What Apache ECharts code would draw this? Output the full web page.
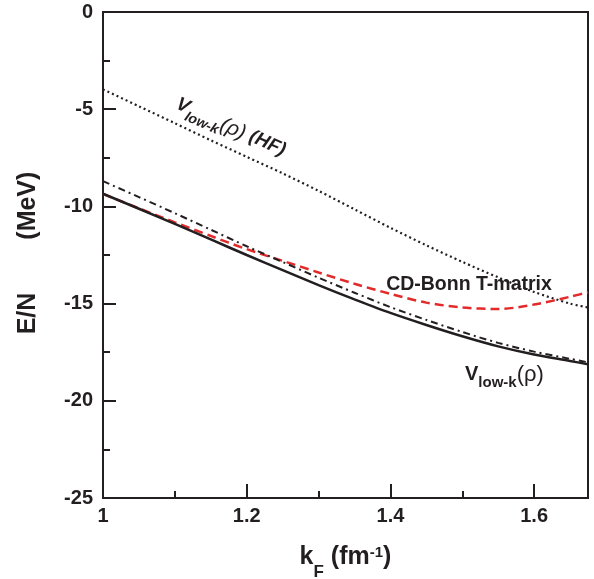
<!DOCTYPE html>
<html>
<head>
<meta charset="utf-8">
<script src="https://cdn.jsdelivr.net/npm/echarts@6/dist/echarts.min.js"></script>
<style>
	html, body { margin: 0; padding: 0; background: #fff; }
	#chart { width: 594px; height: 579px; }
</style>
</head>
<body>
<div id="chart"></div>
<script>
var kF = [1.0, 1.05, 1.1, 1.15, 1.2, 1.25, 1.3, 1.35, 1.4, 1.45, 1.5, 1.55, 1.6, 1.65, 1.675];
var vlowk = [-9.35, -10.12, -10.9, -11.7, -12.5, -13.28, -14.05, -14.78, -15.48, -16.1, -16.68, -17.2, -17.62, -17.95, -18.12];
var vlowkDashDot = [-8.7, -9.52, -10.35, -11.2, -12.05, -12.86, -13.67, -14.44, -15.18, -15.84, -16.46, -17.02, -17.47, -17.84, -18.02];
var cdBonn = [-9.36, -10.1, -10.82, -11.52, -12.2, -12.8, -13.4, -13.98, -14.5, -14.95, -15.2, -15.28, -15.05, -14.65, -14.42];
var vlowkHF = [-3.98, -4.85, -5.72, -6.6, -7.45, -8.3, -9.2, -10.15, -11.1, -12.0, -12.85, -13.65, -14.4, -15.0, -15.2];
var xTicks = [1, 1.675, 0.2, 0.1];
var yTicks = [-25, 0, 5, 2.5];

var ink = '#231f20';
var fam = '"Liberation Sans", Arial, sans-serif';

function pairs(ys) {
	return kF.map(function(x, i) { return [x, ys[i]]; });
}

var myChart = echarts.init(document.getElementById('chart'));
var option = {
	animation: false,
	backgroundColor: '#fff',
	grid: {
		left: 103,
		right: 6,
		top: 12,
		bottom: 81,
		show: true,
		borderColor: ink,
		borderWidth: 2,
		containLabel: false,
		outerBoundsMode: 'none'
	},
	xAxis: [{
		type: 'value',
		position: 'bottom',
		min: xTicks[0],
		max: xTicks[1],
		interval: xTicks[2],
		axisLine: { onZero: false, lineStyle: { color: ink, width: 2 } },
		axisTick: { inside: true, length: 14, lineStyle: { color: ink, width: 2 } },
		axisLabel: { showMaxLabel: false, margin: 8, color: ink, fontSize: 20, fontWeight: 'bold', fontFamily: fam },
		splitLine: { show: false },
		name: '{t|k}{sub|F}{t| (fm}{sup|-1}{t|)}',
		nameLocation: 'middle',
		nameGap: 47,
		nameTextStyle: {
			rich: {
				t: { fontSize: 25, fontWeight: 'bold', fontFamily: fam, color: ink, padding: [0, 0, 11, 0] },
				sub: { fontSize: 17, fontWeight: 'bold', fontFamily: fam, color: ink, verticalAlign: 'bottom' },
				sup: { fontSize: 15, fontWeight: 'bold', fontFamily: fam, color: ink, verticalAlign: 'top' }
			}
		}
	}, {
		// minor ticks
		type: 'value',
		position: 'bottom',
		min: xTicks[0],
		max: xTicks[1],
		interval: xTicks[3],
		axisLine: { show: false, onZero: false },
		axisTick: { inside: true, length: 7, lineStyle: { color: ink, width: 2 } },
		axisLabel: { show: false },
		splitLine: { show: false }
	}],
	yAxis: [{
		type: 'value',
		position: 'left',
		min: yTicks[0],
		max: yTicks[1],
		interval: yTicks[2],
		axisLine: { onZero: false, lineStyle: { color: ink, width: 2 } },
		axisTick: { inside: true, length: 13, lineStyle: { color: ink, width: 2 } },
		axisLabel: { margin: 10, color: ink, fontSize: 20, fontWeight: 'bold', fontFamily: fam },
		splitLine: { show: false },
		name: '{a|E/N}{g|}{a|(MeV)}',
		nameLocation: 'middle',
		nameGap: 62,
		nameTextStyle: {
			padding: [0, 0, 0, 4],
			rich: {
				a: { fontSize: 25, fontWeight: 'bold', fontFamily: fam, color: ink },
				g: { width: 53 }
			}
		}
	}, {
		// minor ticks
		type: 'value',
		position: 'left',
		min: yTicks[0],
		max: yTicks[1],
		interval: yTicks[3],
		axisLine: { show: false, onZero: false },
		axisTick: { inside: true, length: 7, lineStyle: { color: ink, width: 2 } },
		axisLabel: { show: false },
		splitLine: { show: false }
	}],
	series: [{
		name: 'Vlowk HF',
		type: 'line',
		data: pairs(vlowkHF),
		showSymbol: false,
		smooth: 0.3,
		lineStyle: { color: ink, width: 2.2, type: [2, 3] },
		z: 2
	}, {
		name: 'CD-Bonn T-matrix',
		type: 'line',
		data: pairs(cdBonn),
		showSymbol: false,
		smooth: 0.3,
		lineStyle: { color: '#e32a2a', width: 2.5, type: [9, 5] },
		z: 3
	}, {
		name: 'Vlowk dash-dot',
		type: 'line',
		data: pairs(vlowkDashDot),
		showSymbol: false,
		smooth: 0.3,
		lineStyle: { color: ink, width: 2, type: [7, 4, 2, 4] },
		z: 4
	}, {
		name: 'Vlowk',
		type: 'line',
		data: pairs(vlowk),
		showSymbol: false,
		smooth: 0.3,
		lineStyle: { color: ink, width: 2.5 },
		z: 5
	}],
	graphic: [{
		type: 'text',
		x: 176,
		y: 106,
		rotation: -24 * Math.PI / 180,
		style: {
			text: '{v|V}{sub|low-k}{r|(\u03c1)}{v| (HF)}',
			align: 'left',
			verticalAlign: 'middle',
			rich: {
				v: { fontSize: 19, fontWeight: 'bold', fontStyle: 'italic', fontFamily: fam, fill: ink, padding: [0, 0, 6, 0] },
				sub: { fontSize: 14, fontWeight: 'bold', fontStyle: 'italic', fontFamily: fam, fill: ink, verticalAlign: 'bottom' },
				r: { fontSize: 21, fontStyle: 'italic', fontFamily: fam, fill: ink, padding: [0, 0, 4, 0] }
			}
		}
	}, {
		type: 'text',
		x: 469,
		y: 285,
		style: {
			text: 'CD-Bonn T-matrix',
			align: 'center',
			verticalAlign: 'middle',
			fontSize: 19.5,
			fontWeight: 'bold',
			fontFamily: fam,
			fill: ink
		}
	}, {
		type: 'text',
		x: 465,
		y: 377,
		style: {
			text: '{v|V}{sub|low-k}{r|(\u03c1)}',
			align: 'left',
			verticalAlign: 'middle',
			rich: {
				v: { fontSize: 20, fontWeight: 'bold', fontFamily: fam, fill: ink, padding: [0, 0, 6, 0] },
				sub: { fontSize: 15, fontWeight: 'bold', fontFamily: fam, fill: ink, verticalAlign: 'bottom' },
				r: { fontSize: 22, fontFamily: fam, fill: ink, padding: [0, 0, 4, 0] }
			}
		}
	}]
};
myChart.setOption(option);
</script>
</body>
</html>
